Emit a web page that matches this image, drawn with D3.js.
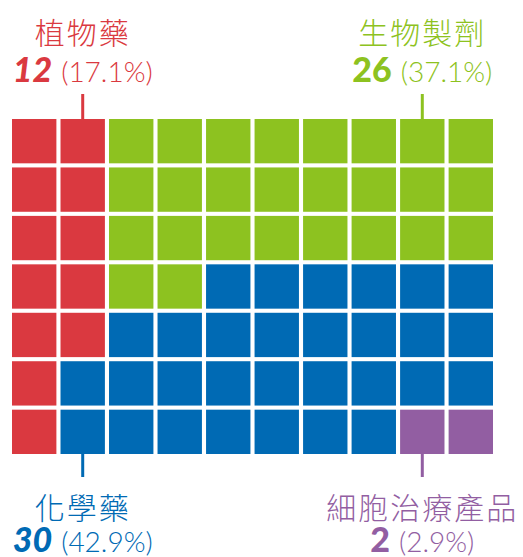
<!DOCTYPE html>
<html>
<head>
    <meta charset="utf-8">
    <title></title>
    <script src="https://d3js.org/d3.v7.min.js"></script>
    <style>
        html, body { margin: 0; padding: 0; background: white; }
    </style>
</head>
<body>
    <div id="chart"></div>
    <script>
        // Categories and values
        const categories = ["植物藥", "生物製劑", "化學藥", "細胞治療產品"];
        const counts = [12, 26, 30, 2];
        const percents = ["17.1%", "37.1%", "42.9%", "2.9%"];

        // Cell arrangement (category index per cell, row by row)
        const cellLayout = [
            "0011111111",
            "0011111111",
            "0011111111",
            "0011222222",
            "0022222222",
            "0222222222",
            "0222222233"
        ];

        // Which column each label points at, and on which side
        const labelColumn = [1, 8, 1, 8];
        const labelSide = ["top", "top", "bottom", "bottom"];

        const colors = ["#da3940", "#8dc220", "#006ab4", "#925ea2"];

        const width = 523, height = 557;
        const nCols = cellLayout[0].length, nRows = cellLayout.length;

        const svg = d3.select("#chart").append("svg")
            .attr("width", width)
            .attr("height", height);

        const x = d3.scaleBand().domain(d3.range(nCols)).range([12, 493]).paddingInner(0.085);
        const y = d3.scaleBand().domain(d3.range(nRows)).range([119, 454]).paddingInner(0.085);
        const color = d3.scaleOrdinal().domain(d3.range(categories.length)).range(colors);

        const cells = [];
        cellLayout.forEach((row, r) => {
            row.split("").forEach((c, col) => cells.push({ row: r, col: col, cat: +c }));
        });

        svg.append("g").selectAll("rect")
            .data(cells)
            .enter()
            .append("rect")
            .attr("x", d => x(d.col))
            .attr("y", d => y(d.row))
            .attr("width", x.bandwidth())
            .attr("height", y.bandwidth())
            .attr("fill", d => color(d.cat));

        // Labels
        categories.forEach((name, i) => {
            const cx = x(labelColumn[i]) + x.bandwidth() / 2;
            const top = labelSide[i] === "top";
            const g = svg.append("g").attr("fill", color(i));

            // leader line
            g.append("line")
                .attr("x1", cx).attr("x2", cx)
                .attr("y1", top ? 94 : 454)
                .attr("y2", top ? 119 : 477)
                .attr("stroke", color(i))
                .attr("stroke-width", 3);

            const nameY = top ? 44 : 519;
            const numY = top ? 82 : 552;

            g.append("text")
                .attr("x", cx)
                .attr("y", nameY)
                .attr("text-anchor", "middle")
                .style("font-family", "'Noto Sans CJK TC', 'Noto Sans CJK SC', sans-serif")
                .style("font-size", "30px")
                .style("font-weight", "300")
                .style("letter-spacing", "2px")
                .text(name);

            const t = g.append("text")
                .attr("x", cx)
                .attr("y", numY)
                .attr("text-anchor", "middle")
                .style("font-family", "Lato, 'Noto Sans', sans-serif");
            t.append("tspan")
                .style("font-size", "34px")
                .style("font-weight", "900")
                .style("font-style", i === 1 || i === 3 ? "normal" : "italic")
                .text(counts[i]);
            t.append("tspan")
                .attr("dx", 9)
                .style("font-size", "28px")
                .style("font-weight", "300")
                .text(`(${percents[i]})`);
        });
    </script>
</body>
</html>
